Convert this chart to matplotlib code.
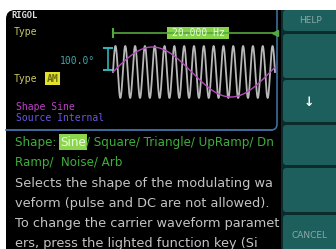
import numpy as np
import matplotlib
matplotlib.use("Agg")
import matplotlib.pyplot as plt
from matplotlib.patches import FancyBboxPatch, Rectangle

# screen content
brand = "RIGOL"
carrier_label = "Type"
mod_type_label = "Type"
mod_type = "AM"
depth_label = "100.0\u00b0"
freq_label = "20.000 Hz"
shape_label = "Shape Sine"
source_label = "Source Internal"
shape_line1 = ["Shape: ", "Sine", "/ Square/ Triangle/ UpRamp/ Dn"]
shape_line2 = "Ramp/  Noise/ Arb"
help_lines = ["Selects the shape of the modulating wa",
              "veform (pulse and DC are not allowed).",
              "To change the carrier waveform paramet",
              "ers, press the lighted function key (Si"]
menu_labels = ["HELP", "", "\u2193", "", "", "CANCEL"]

# waveform preview
carrier_cycles = 16.5
mod_cycles = 1.03
n_samples = 800

fig = plt.figure(figsize=(3.36, 2.49), dpi=100)
ax = fig.add_axes([0, 0, 1, 1])
ax.set_xlim(0, 336)
ax.set_ylim(249, 0)
ax.axis("off")

mono = "DejaVu Sans Mono"

# black screen
screen = FancyBboxPatch((6, 10), 345, 250, boxstyle="round,pad=0,rounding_size=9",
                        fc="black", ec="none")
ax.add_patch(screen)
# top info box outline (only right / bottom edges show)
box = FancyBboxPatch((-20, -10), 297, 140, boxstyle="round,pad=0,rounding_size=6",
                     fc="none", ec="#3d6e9e", lw=1.2)
ax.add_patch(box)
box.set_clip_path(screen)

# softkey column
tops = [10, 34, 80, 125, 168, 215]
bots = [31, 78, 122, 165, 212, 252]
ax.add_patch(Rectangle((281, 10), 60, 242, fc="#0c2b2c", ec="none"))
for i, lab in enumerate(menu_labels):
    ax.add_patch(FancyBboxPatch((283, tops[i]), 60, bots[i] - tops[i],
                                boxstyle="round,pad=0,rounding_size=3",
                                fc="#1c5f5d", ec="none"))
    yc = (tops[i] + bots[i]) / 2
    if lab == "\u2193":
        ax.text(309, yc + 1, lab, color="white", fontsize=9, fontweight="bold",
                ha="center", va="center")
    elif lab:
        ax.text(310, yc + (2 if i == 5 else 0), lab, color="#8fa8a6", fontsize=6.5,
                ha="center", va="center")

# left labels
ax.text(11, 15, brand, color="#e0e0e0", fontsize=6.3, fontweight="bold", va="center",
        family=mono)
ax.text(14, 32, carrier_label, color="#c9c86a", fontsize=7, va="center", family=mono)
ax.text(14, 79, mod_type_label, color="#c9c86a", fontsize=7, va="center", family=mono)
ax.add_patch(Rectangle((45, 72), 15, 13, fc="#e2e22a", ec="none"))
ax.text(52.5, 78.5, mod_type, color="#6a6a10", fontsize=7, ha="center", va="center",
        fontweight="bold", family=mono)
ax.text(16, 107, shape_label, color="#c040c8", fontsize=7, va="center", family=mono)
ax.text(16, 118, source_label, color="#6a55e6", fontsize=7, va="center", family=mono)
ax.text(60, 61, depth_label, color="#3fa6a8", fontsize=7, va="center", family=mono)

# depth marker
ax.plot([108, 108], [48, 70], color="#2fb2b6", lw=1.2)
ax.plot([104, 112], [48, 48], color="#2fb2b6", lw=1.5)
ax.plot([104, 112], [70, 70], color="#2fb2b6", lw=1.5)

# frequency line
x0, x1 = 113, 275
ax.plot([x0, x1], [33, 33], color="#56a83c", lw=1.2)
ax.plot([x0, x0], [29, 37], color="#56a83c", lw=1.5)
ax.plot([x1], [33], marker="<", color="#56a83c", ms=4)
ax.add_patch(Rectangle((167, 27), 62, 12, fc="#86d34a", ec="none"))
ax.text(198, 33, freq_label, color="#e8ffe0", fontsize=7, ha="center", va="center",
        family=mono)

# waveforms
t = np.linspace(0, 1, n_samples)
xs = x0 + t * (x1 - x0)
carrier = 72 - 26 * np.sin(2 * np.pi * carrier_cycles * t)
modw = 72 - 25 * np.sin(2 * np.pi * mod_cycles * t)
ax.plot(xs, carrier, color="#b8b8b8", lw=1.3)
ax.plot(xs, modw, color="#b04cb8", lw=1.0)

# separator line
ax.plot([6, 272], [130, 130], color="#3d6e9e", lw=1.2)

# shape options
fs = 9.3
fs_shape = 8.6
green = "#3fae3c"
fig.canvas.draw()
r = fig.canvas.get_renderer()
inv = ax.transData.inverted()


def width_of(txt):
    bb = txt.get_window_extent(renderer=r)
    p0 = inv.transform((bb.x0, bb.y0))
    p1 = inv.transform((bb.x1, bb.y1))
    return p1[0] - p0[0]


t1 = ax.text(15, 142, shape_line1[0], color=green, fontsize=fs_shape, va="center")
xa = 15 + width_of(t1)
t2 = ax.text(xa, 142, shape_line1[1], color="#e6ffe0", fontsize=fs_shape, va="center",
             zorder=3)
w2 = width_of(t2)
ax.add_patch(Rectangle((xa - 1, 134), w2 + 2, 16, fc="#8ed54e", ec="none", zorder=2))
ax.text(xa + w2, 142, shape_line1[2], color=green, fontsize=fs_shape, va="center")
ax.text(15, 162, shape_line2, color=green, fontsize=fs_shape, va="center")

for i, line in enumerate(help_lines):
    ax.text(15, 183 + 20.3 * i, line, color="#c4c4c4", fontsize=fs, va="center")

fig.savefig("out.png", dpi=100, facecolor="white")
